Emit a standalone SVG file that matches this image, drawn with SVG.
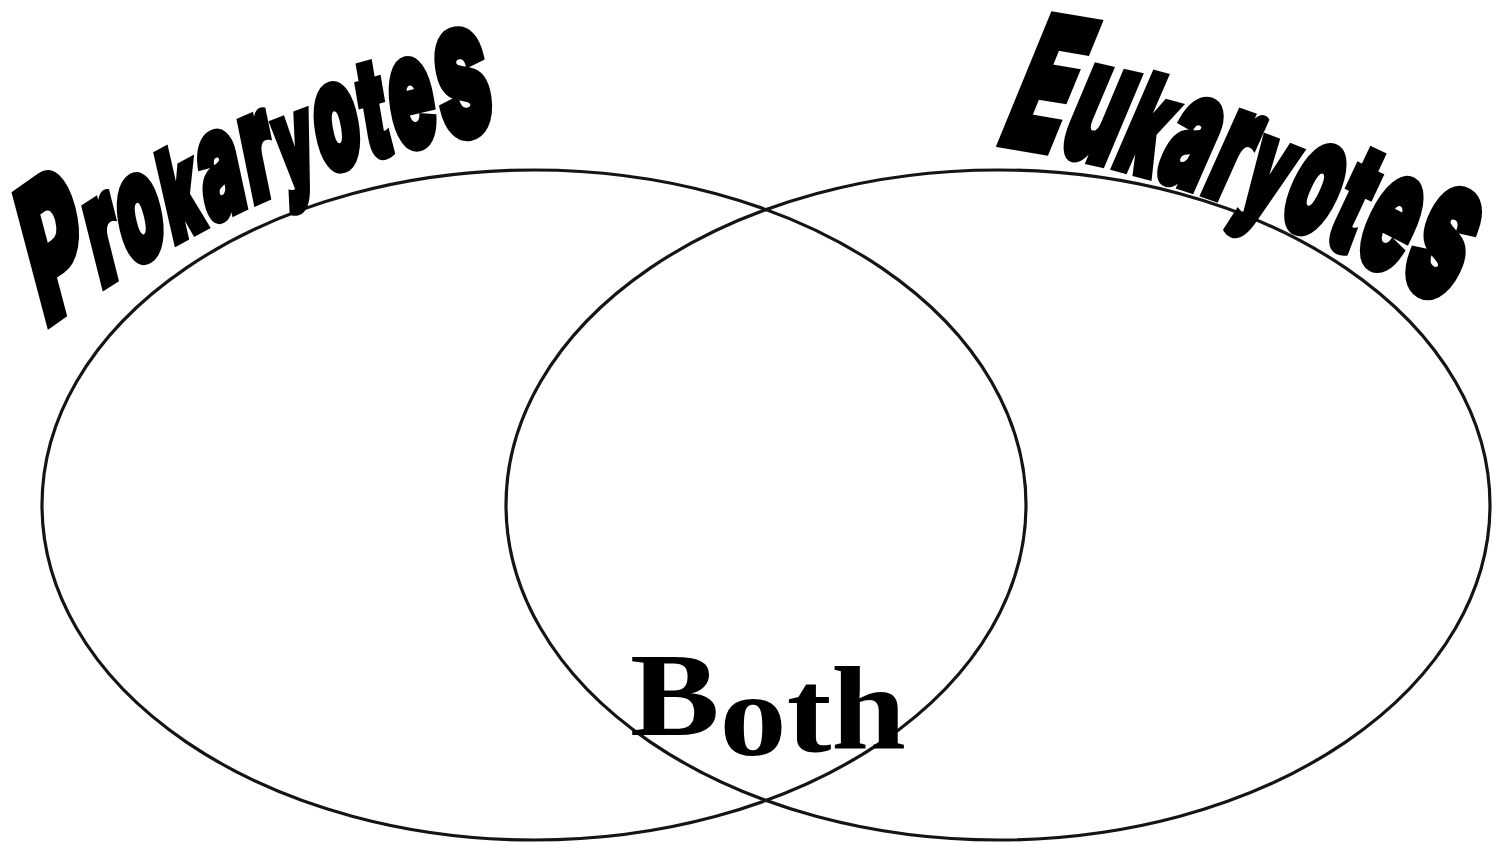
<svg xmlns="http://www.w3.org/2000/svg" xmlns:xlink="http://www.w3.org/1999/xlink" width="1507" height="844" viewBox="0 0 1507 844">
  <style>
    .ring { fill: none; stroke: #141414; stroke-width: 3.2; }
    .arch { font-family: Inter, "DejaVu Sans", "Liberation Sans", sans-serif; font-weight: 900; fill: #000; stroke: #000; stroke-width: 4; stroke-linejoin: miter; stroke-miterlimit: 3; letter-spacing: 3px; }
    .both { font-family: "Liberation Serif", "DejaVu Serif", serif; font-weight: bold; fill: #000; }
  </style>
  <defs>
    <path id="proPath" d="M 12 164 Q 252 81 490 65"/>
    <path id="euPath" d="M 1048 71.5 Q 1295 88 1570 156"/>
  </defs>
  <rect x="0" y="0" width="1507" height="844" fill="#fff"/>
  <g id="connectors"/>
  <g id="prokaryotes">
    <ellipse class="ring" cx="534" cy="505" rx="492" ry="335"/>
    <g transform="matrix(1,0,0.2,2,0,0)">
      <text class="arch"><textPath xlink:href="#proPath" href="#proPath" textLength="486" lengthAdjust="spacingAndGlyphs"><tspan font-size="94">P</tspan><tspan font-size="75">ro</tspan><tspan font-size="62">k</tspan><tspan font-size="75">ar</tspan><tspan font-size="61">y</tspan><tspan font-size="75">o</tspan><tspan font-size="68">t</tspan><tspan font-size="78">e</tspan><tspan font-size="95">s</tspan></textPath></text>
    </g>
  </g>
  <g id="eukaryotes">
    <ellipse class="ring" cx="998" cy="505" rx="492" ry="335"/>
    <g transform="matrix(1,0,-0.74,2,0,0)">
      <text class="arch"><textPath xlink:href="#euPath" href="#euPath" textLength="520" lengthAdjust="spacingAndGlyphs"><tspan font-size="88">E</tspan><tspan font-size="80">u</tspan><tspan font-size="64">k</tspan><tspan font-size="75">ar</tspan><tspan font-size="62">y</tspan><tspan font-size="75">o</tspan><tspan font-size="70">t</tspan><tspan font-size="78">e</tspan><tspan font-size="92">s</tspan></textPath></text>
    </g>
  </g>
  <g id="both">
    <text class="both" x="630" y="735 755 752 748" font-size="118" textLength="276" lengthAdjust="spacingAndGlyphs">Both</text>
  </g>
</svg>
